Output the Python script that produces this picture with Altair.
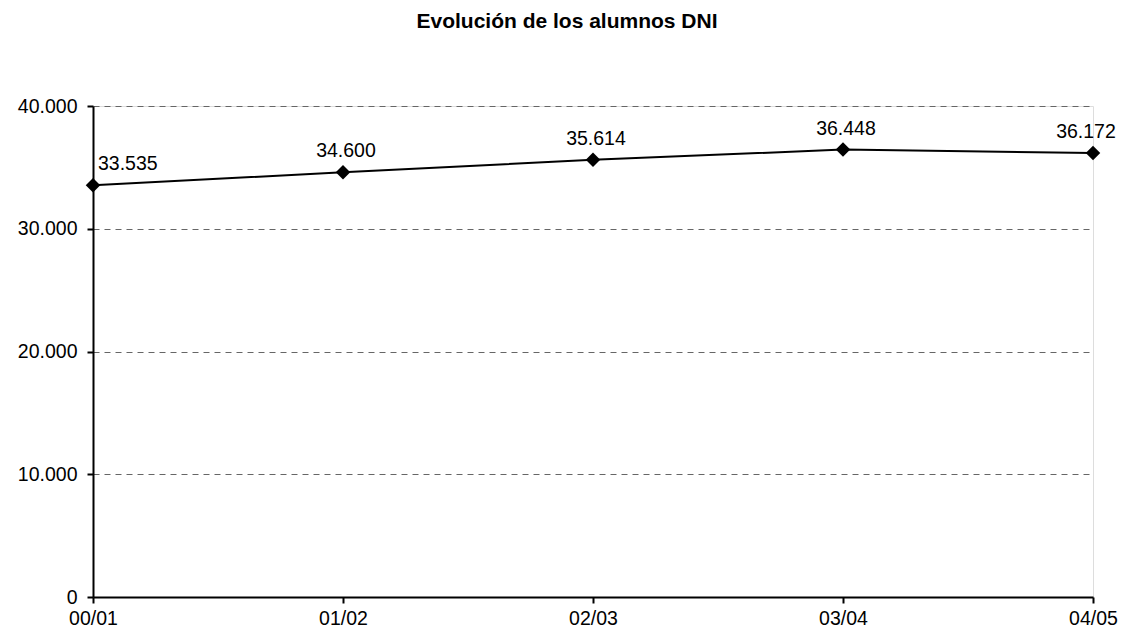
import altair as alt
import pandas as pd

cursos = ["00/01", "01/02", "02/03", "03/04", "04/05"]
alumnos = [33535, 34600, 35614, 36448, 36172]
y_ticks = [0, 10000, 20000, 30000, 40000]

df = pd.DataFrame({"curso": cursos, "alumnos": alumnos})
n = len(cursos)
df["pos"] = ["first" if i == 0 else ("last" if i == n - 1 else "mid") for i in range(n)]

FONT = "Liberation Sans"
FS = 19.5
fmt = "replace(format(datum.value, ','), ',', '.')"

x = alt.X("curso:N", sort=cursos,
          scale=alt.Scale(type="point", padding=0),
          axis=alt.Axis(title=None, labelAngle=0, labelFont=FONT, labelFontSize=FS,
                        labelColor="black", labelPadding=6, tickSize=6,
                        tickColor="black", domainColor="black", domainWidth=2,
                        tickWidth=2, grid=False))
y = alt.Y("alumnos:Q", scale=alt.Scale(domain=[0, 40000], nice=False),
          axis=alt.Axis(title=None, values=y_ticks, labelExpr=fmt, labelFont=FONT,
                        labelFontSize=FS, labelColor="black", labelPadding=10,
                        tickSize=6, tickColor="black", tickWidth=2,
                        domainColor="black", domainWidth=2,
                        grid=True, gridColor="#666666", gridDash=[6, 5], gridWidth=1))

base = alt.Chart(df).transform_calculate(
    lbl="replace(format(datum.alumnos, ','), ',', '.')"
)

line = alt.Chart(df).mark_line(color="black", strokeWidth=2).encode(x=x, y=y)
points = alt.Chart(df).mark_point(shape="diamond", filled=True, color="black",
                                  size=210, opacity=1).encode(x=x, y=y)

lab_first = base.transform_filter("datum.pos == 'first'").mark_text(
    align="left", baseline="middle", dx=5, dy=-21, font=FONT,
    fontSize=FS, color="black").encode(x=x, y=y, text="lbl:N")
lab_mid = base.transform_filter("datum.pos == 'mid'").mark_text(
    align="center", baseline="middle", dx=3, dy=-21, font=FONT,
    fontSize=FS, color="black").encode(x=x, y=y, text="lbl:N")
lab_last = base.transform_filter("datum.pos == 'last'").mark_text(
    align="center", baseline="middle", dx=-7, dy=-21, font=FONT,
    fontSize=FS, color="black").encode(x=x, y=y, text="lbl:N")

chart = alt.layer(line, points, lab_first, lab_mid, lab_last).properties(
    width=1000, height=491,
    title=alt.TitleParams("Evolución de los alumnos DNI", font=FONT, fontSize=21,
                          fontWeight="bold", color="black", anchor="middle",
                          offset=64, dx=-26),
    autosize=alt.AutoSizeParams(type="none"),
    padding={"left": 85, "top": 98, "right": 26, "bottom": 32},
).configure_view(stroke=None).configure(background="white")

chart.save("out.html", embed_options={"renderer": "svg", "actions": False})
